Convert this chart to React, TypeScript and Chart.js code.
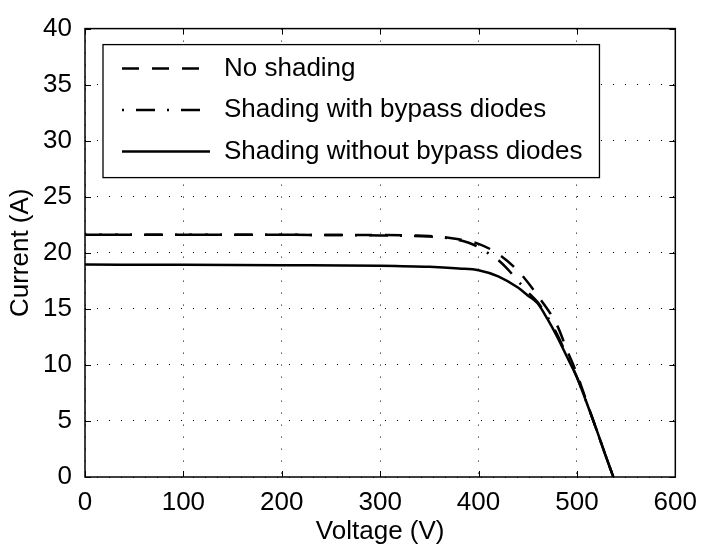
import React, { useEffect, useRef } from "react";
import { Chart, registerables } from "chart.js";

Chart.register(...registerables);

// Axis ticks
const voltageTicks = [0, 100, 200, 300, 400, 500, 600];
const currentTicks = [0, 5, 10, 15, 20, 25, 30, 35, 40];

// I-V curve: array without shading
const noShadingV = [0, 100, 200, 300, 350, 380, 400, 420, 440, 460, 480, 490, 500, 510, 520, 530, 537];
const noShadingI = [21.6, 21.6, 21.6, 21.58, 21.5, 21.2, 20.8, 19.9, 18.4, 16.2, 13.5, 11.3, 9.2, 6.7, 4.2, 1.7, 0];

// I-V curve: shaded array with bypass diodes
const bypassV = [0, 100, 200, 300, 350, 370, 390, 400, 410, 420, 430, 440, 450, 460, 470, 480, 490, 500, 510, 520, 530, 537];
const bypassI = [21.6, 21.6, 21.6, 21.55, 21.45, 21.3, 20.9, 20.5, 19.95, 19.35, 18.5, 17.5, 16.5, 15.6, 14.3, 12.7, 10.8, 8.9, 6.6, 4.2, 1.7, 0];

// I-V curve: shaded array without bypass diodes
const noBypassV = [0, 100, 200, 300, 350, 380, 400, 420, 440, 450, 460, 470, 480, 490, 500, 510, 520, 530, 537];
const noBypassI = [18.95, 18.93, 18.9, 18.85, 18.75, 18.6, 18.45, 17.9, 16.9, 16.2, 15.5, 14.1, 12.5, 10.7, 8.9, 6.6, 4.2, 1.7, 0];

const seriesLabels = ["No shading", "Shading with bypass diodes", "Shading without bypass diodes"];
const seriesDash: number[][] = [[17, 13], [2, 12, 19, 12], []];

const FONT = '"Liberation Sans", Arial, Helvetica, sans-serif';
const FONT_SIZE = 26;

const toPoints = (xs: number[], ys: number[]) => xs.map((x, i) => ({ x, y: ys[i] }));

const framePlugin = {
  id: "matlabFrame",
  afterDraw(chart: any) {
    const { ctx, chartArea: a, scales } = chart;
    const xs = scales.x;
    const ys = scales.y;
    ctx.save();

    // inward tick marks on all four sides
    ctx.strokeStyle = "#000";
    ctx.lineWidth = 1;
    const tl = 6;
    ctx.beginPath();
    voltageTicks.forEach((v) => {
      const px = Math.round(xs.getPixelForValue(v)) + 0.5;
      ctx.moveTo(px, a.bottom);
      ctx.lineTo(px, a.bottom - tl);
      ctx.moveTo(px, a.top);
      ctx.lineTo(px, a.top + tl);
    });
    currentTicks.forEach((c) => {
      const py = Math.round(ys.getPixelForValue(c)) + 0.5;
      ctx.moveTo(a.left, py);
      ctx.lineTo(a.left + tl, py);
      ctx.moveTo(a.right, py);
      ctx.lineTo(a.right - tl, py);
    });
    ctx.stroke();

    // axes box
    ctx.lineWidth = 1.5;
    ctx.strokeRect(a.left, a.top, a.right - a.left, a.bottom - a.top);

    // axis titles
    ctx.fillStyle = "#000";
    ctx.font = `${FONT_SIZE}px ${FONT}`;
    ctx.textAlign = "center";
    ctx.textBaseline = "middle";
    ctx.fillText("Voltage (V)", (a.left + a.right) / 2, chart.height - 22);
    ctx.save();
    ctx.translate(21, (a.top + a.bottom) / 2);
    ctx.rotate(-Math.PI / 2);
    ctx.fillText("Current (A)", 0, 0);
    ctx.restore();

    // legend
    const boxLeft = a.left + 18;
    const boxTop = a.top + 16;
    const lineX0 = boxLeft + 19;
    const lineX1 = lineX0 + 88;
    const textX = lineX0 + 102;
    const rowGap = 41.5;
    const firstRow = boxTop + 24;
    let maxW = 0;
    seriesLabels.forEach((t) => {
      maxW = Math.max(maxW, ctx.measureText(t).width);
    });
    const boxRight = textX + maxW + 17;
    const boxBottom = firstRow + rowGap * 2 + 26;
    ctx.fillStyle = "#fff";
    ctx.fillRect(boxLeft, boxTop, boxRight - boxLeft, boxBottom - boxTop);
    ctx.strokeStyle = "#000";
    ctx.lineWidth = 1.3;
    ctx.strokeRect(boxLeft, boxTop, boxRight - boxLeft, boxBottom - boxTop);

    chart.data.datasets.forEach((ds: any, i: number) => {
      const y = firstRow + rowGap * i;
      ctx.beginPath();
      ctx.setLineDash(ds.borderDash || []);
      ctx.lineWidth = ds.borderWidth;
      ctx.strokeStyle = ds.borderColor;
      ctx.moveTo(lineX0, y);
      ctx.lineTo(lineX1, y);
      ctx.stroke();
      ctx.setLineDash([]);
      ctx.fillStyle = "#000";
      ctx.textAlign = "left";
      ctx.textBaseline = "middle";
      ctx.fillText(ds.label, textX, y);
    });

    ctx.restore();
  },
};

export default function App() {
  const canvasRef = useRef<HTMLCanvasElement | null>(null);

  useEffect(() => {
    const canvas = canvasRef.current;
    if (!canvas) return;

    const mk = (i: number, xs: number[], ys: number[]) => ({
      label: seriesLabels[i],
      data: toPoints(xs, ys),
      borderColor: "#000",
      borderWidth: 2.5,
      borderDash: seriesDash[i],
      pointRadius: 0,
      fill: false,
      cubicInterpolationMode: "monotone" as const,
    });

    const tickFont = { family: FONT, size: FONT_SIZE };

    const chart = new Chart(canvas, {
      type: "line",
      data: {
        datasets: [
          mk(0, noShadingV, noShadingI),
          mk(1, bypassV, bypassI),
          mk(2, noBypassV, noBypassI),
        ],
      },
      options: {
        animation: false,
        responsive: false,
        devicePixelRatio: 1,
        layout: { padding: { left: 0, top: 15, right: 27, bottom: 0 } },
        plugins: {
          legend: { display: false },
          tooltip: { enabled: false },
        },
        scales: {
          x: {
            type: "linear",
            min: 0,
            max: 600,
            afterBuildTicks: (s: any) => {
              s.ticks = voltageTicks.map((v) => ({ value: v }));
            },
            afterFit: (s: any) => {
              s.height = 77;
            },
            grid: { color: "#000", lineWidth: 1, drawTicks: false },
            border: { display: false, dash: [1, 11] },
            ticks: { color: "#000", font: tickFont, padding: 10, maxRotation: 0 },
          },
          y: {
            type: "linear",
            min: 0,
            max: 40,
            afterBuildTicks: (s: any) => {
              s.ticks = currentTicks.map((v) => ({ value: v }));
            },
            afterFit: (s: any) => {
              s.width = 85;
            },
            grid: { color: "#000", lineWidth: 1, drawTicks: false },
            border: { display: false, dash: [1, 11] },
            ticks: { color: "#000", font: tickFont, padding: 13 },
          },
        },
      },
      plugins: [framePlugin],
    });

    return () => chart.destroy();
  }, []);

  return (
    <div style={{ position: "fixed", left: 0, top: 0, width: 707, height: 554, background: "#fff" }}>
      <canvas ref={canvasRef} width={707} height={554} style={{ width: 707, height: 554, display: "block" }} />
    </div>
  );
}
